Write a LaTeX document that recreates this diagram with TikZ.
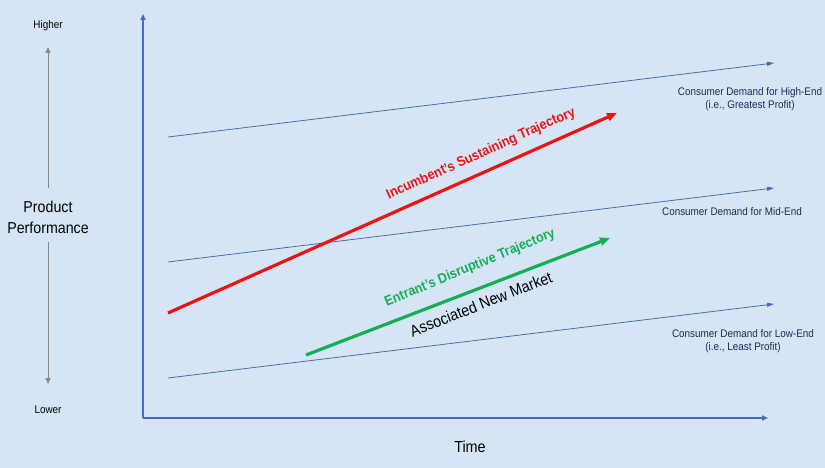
\documentclass[tikz,border=0pt]{standalone}
\usepackage{fontspec}
\setmainfont[FakeStretch=0.9]{Liberation Sans}
\usetikzlibrary{arrows.meta}
\definecolor{bg}{RGB}{214,229,246}
\definecolor{axisblue}{RGB}{70,105,185}
\definecolor{lineblue}{RGB}{75,105,175}
\definecolor{navy}{RGB}{30,40,85}
\definecolor{myred}{RGB}{235,20,20}
\definecolor{mygreen}{RGB}{20,175,85}
\definecolor{mygray}{RGB}{135,135,140}
\tikzset{
  px/.style={x=1pt,y=-1pt},
  axisline/.style={axisblue,line width=1.8pt,-{Triangle[length=6pt,width=5pt]}},
  demand/.style={lineblue,line width=0.8pt,-{Triangle[length=7pt,width=4pt]}},
  grayarrow/.style={mygray,line width=0.8pt,-{Triangle[length=6pt,width=5pt]}},
  traj/.style={line width=3.2pt,-{Triangle[length=10pt,width=8pt]}},
  demandlabel/.style={navy,font=\fontsize{11}{13.5}\selectfont,align=center,inner sep=0pt},
  sidelabel/.style={black,font=\fontsize{11}{13}\selectfont,inner sep=0pt},
  biglabel/.style={black,font=\fontsize{15.8}{21}\selectfont,align=center,inner sep=0pt},
  trajlabel/.style={font=\bfseries\fontsize{14}{16}\selectfont,inner sep=0pt},
}
\begin{document}
\begin{tikzpicture}[px]
\fill[bg] (0,0) rectangle (825,468);
\useasboundingbox (0,0) rectangle (825,468);
% axes
\coordinate (origin) at (143,418);
\coordinate (ytop) at (143,14);
\coordinate (xend) at (768,418);
\draw[axisline] (origin) -- (ytop);
\draw[axisline] (origin) -- (xend);
% side labels
\node[sidelabel] (higher) at (48,26) {Higher};
\node[sidelabel] (lower) at (48,410) {Lower};
\node[biglabel] (perf) at (48,217) {Product\\Performance};
\coordinate (gt1) at (48,188); \coordinate (gt2) at (48,47);
\coordinate (gb1) at (48,242); \coordinate (gb2) at (48,384);
\draw[grayarrow] (gt1) -- (gt2);
\draw[grayarrow] (gb1) -- (gb2);
\node[biglabel,font=\fontsize{16}{20}\selectfont] (time) at (470,447) {Time};
% demand lines
\coordinate (h1) at (168,137); \coordinate (h2) at (774,63);
\coordinate (m1) at (168,262); \coordinate (m2) at (774,188);
\coordinate (l1) at (168,378); \coordinate (l2) at (774,304);
\draw[demand] (h1) -- (h2);
\draw[demand] (m1) -- (m2);
\draw[demand] (l1) -- (l2);
\node[demandlabel] (hlab) at (750,99) {Consumer Demand for High-End\\(i.e., Greatest Profit)};
\node[demandlabel] (mlab) at (732,212) {Consumer Demand for Mid-End};
\node[demandlabel] (llab) at (743,341) {Consumer Demand for Low-End\\(i.e., Least Profit)};
% trajectories
\coordinate (r1) at (168,313); \coordinate (r2) at (617,113);
\draw[traj,myred] (r1) -- (r2);
\node[trajlabel,myred,rotate=24.2] (rlab) at (481,154) {Incumbent's Sustaining Trajectory};
\coordinate (g1) at (306,355); \coordinate (g2) at (610,238);
\draw[traj,mygreen] (g1) -- (g2);
\node[trajlabel,mygreen,rotate=22.5] (glab) at (470,268) {Entrant's Disruptive Trajectory};
\node[black,font=\fontsize{16}{18}\selectfont,rotate=21.5,inner sep=0pt] (alab) at (481,304) {Associated New Market};
\end{tikzpicture}
\end{document}
